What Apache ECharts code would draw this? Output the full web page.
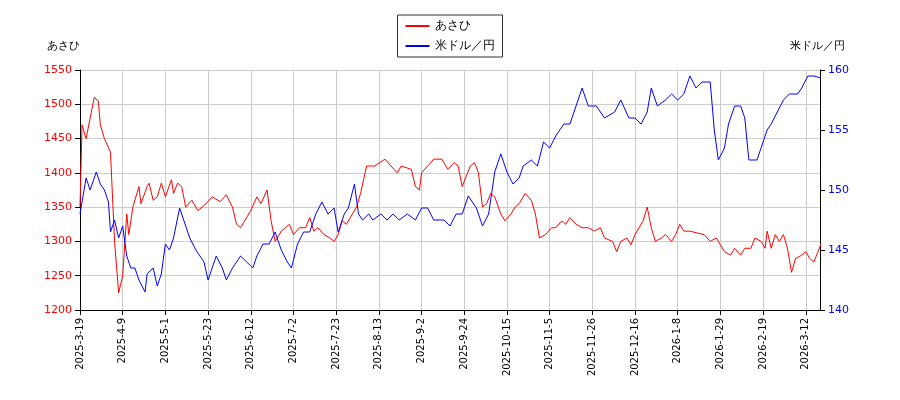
<!DOCTYPE html>
<html><head><meta charset="utf-8">
<script src="https://cdn.jsdelivr.net/npm/echarts@6/dist/echarts.min.js"></script>
<style>body{margin:0}#c{width:900px;height:400px}</style></head>
<body><div id="c"></div>
<script>
const tickLabels = ['2025-3-19','2025-4-9','2025-5-1','2025-5-23','2025-6-12','2025-7-2','2025-7-23','2025-8-13','2025-9-2','2025-9-24','2025-10-15','2025-11-5','2025-11-26','2025-12-16','2026-1-8','2026-1-29','2026-2-19','2026-3-12'];
const asahiDays = [0,1,3,5,7,9,10,12,15,17,19,21,23,24,26,29,30,33,34,36,38,40,42,45,46,48,50,52,55,58,62,65,69,72,75,77,79,81,84,87,89,92,94,96,99,101,103,105,108,111,113,115,117,120,123,125,127,129,131,134,136,138,141,145,150,153,156,158,163,165,167,168,171,174,178,181,184,186,188,190,192,194,196,198,200,202,204,207,209,212,214,216,219,222,224,226,229,232,234,237,239,241,244,247,250,253,256,258,262,264,266,269,271,273,275,277,279,281,283,286,288,291,293,295,297,300,304,307,310,313,315,317,320,322,325,327,330,332,335,337,338,340,342,344,346,348,350,352,355,357,359,361,363,365];
const asahiVals = [1350,1470,1450,1480,1510,1505,1470,1450,1430,1300,1225,1250,1340,1310,1350,1380,1355,1380,1385,1360,1365,1385,1365,1390,1370,1385,1380,1350,1360,1345,1355,1365,1358,1368,1350,1325,1320,1330,1345,1365,1355,1375,1330,1300,1315,1320,1325,1310,1320,1320,1335,1315,1320,1310,1305,1300,1310,1330,1325,1340,1350,1370,1410,1410,1420,1410,1400,1410,1405,1380,1375,1400,1410,1420,1420,1405,1415,1410,1380,1395,1410,1415,1400,1350,1355,1370,1365,1340,1330,1340,1350,1355,1370,1360,1340,1305,1310,1320,1320,1330,1325,1335,1325,1320,1320,1315,1320,1305,1300,1285,1300,1305,1295,1310,1320,1330,1350,1320,1300,1305,1310,1300,1310,1325,1315,1315,1312,1310,1300,1305,1295,1285,1280,1290,1280,1290,1290,1305,1300,1290,1315,1290,1310,1300,1310,1290,1255,1275,1280,1285,1275,1270,1285,1300];
const usdDays = [0,3,5,8,10,12,14,15,17,19,21,23,25,27,29,32,33,36,38,40,42,44,46,49,52,54,57,61,63,65,67,70,72,75,79,82,85,87,90,93,96,99,102,104,107,110,113,116,119,122,125,127,130,132,135,137,139,142,144,148,151,154,157,161,165,168,171,174,179,182,185,188,191,195,198,201,204,207,210,213,216,218,222,225,228,231,234,238,241,244,247,250,254,258,263,266,270,273,276,279,281,284,288,291,294,297,300,303,306,310,312,314,317,319,322,325,327,329,333,335,338,340,343,346,349,353,355,358,361,365];
const usdVals = [148,151,150,151.5,150.5,150,149,146.5,147.5,146,147,144.5,143.5,143.5,142.5,141.5,143,143.5,142,143,145.5,145,146,148.5,147,146,145,144,142.5,143.5,144.5,143.5,142.5,143.5,144.5,144,143.5,144.5,145.5,145.5,146.5,145,144,143.5,145.5,146.5,146.5,148,149,148,148.5,146.5,148,148.5,150.5,148,147.5,148,147.5,148,147.5,148,147.5,148,147.5,148.5,148.5,147.5,147.5,147,148,148,149.5,148.5,147,148,151.5,153,151.5,150.5,151,152,152.5,152,154,153.5,154.5,155.5,155.5,157,158.5,157,157,156,156.5,157.5,156,156,155.5,156.5,158.5,157,157.5,158,157.5,158,159.5,158.5,159,159,155,152.5,153.5,155.5,157,157,156,152.5,152.5,153.5,155,155.5,156.5,157.5,158,158,158.5,159.5,159.5,159.3];
const zip=(a,b)=>a.map((d,i)=>[d,b[i]]);
const font='DejaVu Sans';
const c=echarts.init(document.getElementById('c'));
c.setOption({
  animation:false,
  textStyle:{fontFamily:font},
  legend:{top:15,left:'center',orient:'vertical',itemWidth:24,itemHeight:2,borderColor:'#333',borderWidth:1,borderRadius:0,padding:[5,8],
    textStyle:{fontSize:12,color:'#000'},data:[{name:'あさひ',icon:'rect'},{name:'米ドル／円',icon:'rect'}]},
  grid:{left:80,right:80,top:70,bottom:90},
  xAxis:{type:'value',min:0,max:364,interval:21,
    axisLine:{lineStyle:{color:'#000'}},axisTick:{lineStyle:{color:'#000'}},
    axisLabel:{rotate:90,showMaxLabel:false,formatter:v=>tickLabels[Math.round(v/21)]||'',fontSize:10,color:'#000'},
    splitLine:{lineStyle:{color:'#ccc'}}},
  yAxis:[{type:'value',min:1200,max:1550,interval:50,name:'あさひ',nameLocation:'end',nameGap:18,
      nameTextStyle:{align:'right',color:'#000',fontSize:11},
      axisLine:{show:true,lineStyle:{color:'#000'}},axisTick:{show:true},
      axisLabel:{color:'red',fontSize:11,formatter:v=>String(v)},splitLine:{lineStyle:{color:'#ccc'}}},
    {type:'value',min:140,max:160,interval:5,name:'米ドル／円',nameLocation:'end',nameGap:18,
      nameTextStyle:{align:'left',color:'#000',fontSize:11,padding:[0,0,0,-30]},
      axisLine:{show:true,lineStyle:{color:'#000'}},axisTick:{show:true},
      axisLabel:{color:'blue',fontSize:11},splitLine:{show:false}}],
  series:[
    {name:'あさひ',type:'line',data:zip(asahiDays,asahiVals),showSymbol:false,lineStyle:{color:'red',width:1},itemStyle:{color:'red'}},
    {name:'米ドル／円',type:'line',yAxisIndex:1,data:zip(usdDays,usdVals),showSymbol:false,lineStyle:{color:'blue',width:1},itemStyle:{color:'blue'}}
  ]
});
</script></body></html>
